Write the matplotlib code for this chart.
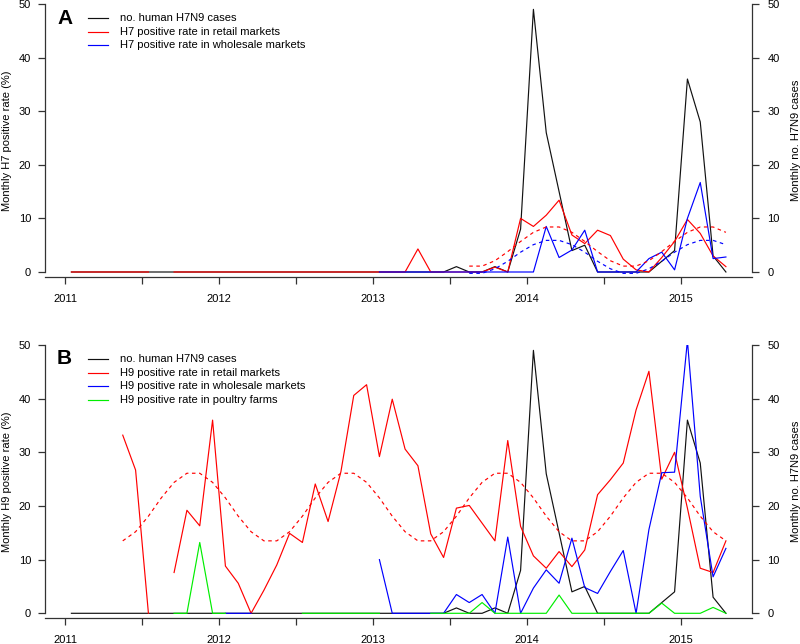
"""Monthly H7 / H9 positive rates in poultry vs. human H7N9 cases, 2011-2015.

Two stacked panels (A: H7, B: H9) in the style of an R base-graphics figure.
Saves out.png (800x644).
"""

import numpy as np
import pandas as pd
import matplotlib
matplotlib.use('Agg')
import matplotlib.pyplot as plt
from matplotlib.lines import Line2D

nan = np.nan

# months Jan 2011 .. Apr 2015
months = pd.period_range('2011-01', '2015-04', freq='M')

human_cases = [
    0, 0, 0, 0, 0, 0, 0, 0, 0, 0, 0, 0,          # 2011
    0, 0, 0, 0, 0, 0, 0, 0, 0, 0, 0, 0,          # 2012
    0, 0, 0, 0, 0, 0, 1, 0, 0, 1, 0, 8,          # 2013
    49, 26, 15, 4, 5, 0, 0, 0, 0, 0, 2, 4,       # 2014
    36, 28, 3, 0,                                # 2015
]

h7_retail = [
    0, 0, 0, 0, 0, 0, 0, nan, 0, 0, 0, 0,
    0, 0, 0, 0, 0, 0, 0, 0, 0, 0, 0, 0,
    0, 0, 0, 4.3, 0, 0, 0, 0, 0, 0.9, 0, 10.0,
    8.5, 10.6, 13.4, 6.9, 5.3, 7.8, 6.8, 2.4, 0.4, 0, 2.7, 5.7,
    9.8, 7.2, 3.0, 1.0,
]

h7_wholesale = [
    nan, nan, nan, nan, nan, nan, nan, nan, nan, nan, nan, nan,
    nan, nan, nan, nan, nan, nan, nan, nan, nan, nan, nan, nan,
    0, 0, 0, 0, 0, 0, 0, 0, 0, 0, 0, 0,
    0, 8.5, 2.7, 4.1, 7.8, 0, 0, 0, 0, 2.5, 3.7, 0.4,
    10.0, 16.7, 2.5, 2.8,
]

# seasonal fits (dashed), start month given separately
h7_fit_start = '2013-08'
h7_retail_fit = [1.1, 1.1, 2.1, 3.8, 5.7, 7.4, 8.4, 8.4, 7.4, 5.7, 3.8, 2.1,
                 1.1, 1.1, 2.1, 3.8, 5.7, 7.4, 8.4, 8.4, 7.4]
h7_wholesale_fit = [-0.25, -0.25, 0.6, 2.0, 3.7, 5.1, 5.9, 5.9, 5.1, 3.7, 2.0, 0.6,
                    -0.25, -0.25, 0.6, 2.0, 3.7, 5.1, 5.9, 5.9, 5.1]

h9_retail = [
    nan, nan, nan, nan, 33.2, 26.7, 0, nan, 7.6, 19.2, 16.3, 36.0,
    8.8, 5.6, 0, 4.3, 9.0, 14.9, 13.2, 24.1, 17.1, 26.4, 40.6, 42.6,
    29.2, 39.9, 30.6, 27.5, 14.8, 10.4, 19.6, 20.1, 16.8, 13.5, 32.2, 16.2,
    10.7, 8.4, 11.5, 8.7, 11.8, 22.1, 24.9, 28.0, 37.9, 45.1, 25.0, 30.0,
    19.6, 8.4, 7.6, 13.5,
]

h9_wholesale = [
    nan, nan, nan, nan, nan, nan, nan, nan, nan, nan, nan, nan,
    0, 0, 0, nan, nan, nan, nan, nan, nan, nan, nan, nan,
    10.0, 0, 0, 0, 0, 0, 3.5, 2.0, 3.5, 0, 14.2, 0,
    4.7, 8.1, 5.6, 14.0, 4.8, 3.7, 7.8, 11.7, 0, 15.6, 26.2, 26.3,
    50.8, 21.8, 6.8, 12.1,
]

h9_farms = [
    nan, nan, nan, nan, nan, nan, nan, nan, 0, 0, 13.2, 0,
    0, nan, nan, nan, nan, nan, 0, 0, 0, 0, 0, 0,
    0, nan, nan, nan, 0, 0, 0, 0, 2.0, 0, 0, 0,
    0, 0, 3.4, 0, 0, 0, 0, 0, 0, 0, 1.9, 0,
    0, 0, 1.1, 0,
]

h9_fit_start = '2011-05'
h9_retail_fit = [
    13.5, 15.2, 18.1, 21.5, 24.4, 26.1, 26.1, 24.4,
    21.5, 18.1, 15.2, 13.5, 13.5, 15.2, 18.1, 21.5, 24.4, 26.1, 26.1, 24.4,
    21.5, 18.1, 15.2, 13.5, 13.5, 15.2, 18.1, 21.5, 24.4, 26.1, 26.1, 24.4,
    21.5, 18.1, 15.2, 13.5, 13.5, 15.2, 18.1, 21.5, 24.4, 26.1, 26.1, 24.4,
    21.5, 18.1, 15.2, 13.5,
]

labels_a = ['no. human H7N9 cases',
            'H7 positive rate in retail markets',
            'H7 positive rate in wholesale markets']
labels_b = ['no. human H7N9 cases',
            'H9 positive rate in retail markets',
            'H9 positive rate in wholesale markets',
            'H9 positive rate in poultry farms']

years = [2011, 2012, 2013, 2014, 2015]
half_years = [2011.5, 2012.5, 2013.5, 2014.5]
y_ticks = [0, 10, 20, 30, 40, 50]

RED = '#ff0000'
BLUE = '#0000ff'
GREEN = '#00ee00'
BLACK = '#111111'
AXIS = '#333333'

W, H = 800, 644
PX_PER_YEAR = 154.0
X0_PX = 65.0          # pixel of 2011.0
AX_LEFT, AX_RIGHT = 45.0, 752.0


def month_x(index):
    return index.year + (index.month - 0.5) / 12.0


def style_axes(ax):
    ax.set_xlim(2011 - (X0_PX - AX_LEFT) / PX_PER_YEAR,
                2011 + (AX_RIGHT - X0_PX) / PX_PER_YEAR)
    ax.set_ylim(-5 / 5.36, 50)
    ax.spines['top'].set_visible(False)
    ax.spines['right'].set_visible(False)
    ax.spines['left'].set_bounds(0, 50)
    for s in ('left', 'bottom'):
        ax.spines[s].set_linewidth(0.9)
        ax.spines[s].set_color(AXIS)
    ax.set_xticks(years)
    ax.set_xticks(half_years, minor=True)
    ax.set_yticks(y_ticks)
    ax.tick_params(axis='x', which='both', length=5, width=0.9, color=AXIS,
                   pad=7, labelsize=8)
    ax.tick_params(axis='y', length=5, width=0.9, color=AXIS, pad=5,
                   labelsize=8)

    # right axis shares the 0-50 scale
    ax2 = ax.twinx()
    ax2.set_ylim(ax.get_ylim())
    for s in ('top', 'left', 'bottom'):
        ax2.spines[s].set_visible(False)
    ax2.spines['right'].set_bounds(0, 50)
    ax2.spines['right'].set_linewidth(0.9)
    ax2.spines['right'].set_color(AXIS)
    ax2.set_yticks(y_ticks)
    ax2.tick_params(axis='y', length=5, width=0.9, color=AXIS, pad=6,
                    labelsize=8)
    return ax2


def draw_legend(fig, colors, labels, top_px):
    # R-style legend without box: short line + label per row
    for i, (c, lab) in enumerate(zip(colors, labels)):
        y = 1 - (top_px + 14 + i * 13.6) / H
        fig.add_artist(Line2D([88 / W, 108 / W], [y, y], color=c, lw=0.85,
                              transform=fig.transFigure))
        fig.text(120 / W, y, lab, fontsize=8, ha='left', va='center')


def draw_panel(ax, series, fits, fit_start, letter, ylabel, labels, top_px):
    x = month_x(months)
    for values, color in series:
        ax.plot(x, values, color=color, lw=0.85)

    start = list(months.strftime('%Y-%m')).index(fit_start)
    for values, color in fits:
        xs = x[start:start + len(values)]
        ax.plot(xs, values, color=color, lw=0.85, dashes=(3, 3))

    ax2 = style_axes(ax)
    ax2.set_ylabel('Monthly no. H7N9 cases', fontsize=8, labelpad=8)
    ax.set_ylabel(ylabel, fontsize=8, labelpad=5)

    fig = ax.figure
    fig.text(57 / W, 1 - (top_px + 14) / H, letter, fontsize=15,
             fontweight='bold', ha='left', va='center')
    draw_legend(fig, [c for _, c in series], labels, top_px)


def main():
    plt.rcParams['font.family'] = ['Liberation Sans', 'DejaVu Sans']
    fig = plt.figure(figsize=(W / 100, H / 100), dpi=100)

    # panel A: y=50 at 4px, bottom axis line at 277px
    axA = fig.add_axes([AX_LEFT / W, 1 - 277 / H, (AX_RIGHT - AX_LEFT) / W, 273 / H])
    draw_panel(axA,
               [(human_cases, BLACK), (h7_retail, RED), (h7_wholesale, BLUE)],
               [(h7_retail_fit, RED), (h7_wholesale_fit, BLUE)],
               h7_fit_start, 'A', 'Monthly H7 positive rate (%)', labels_a, 4)

    # panel B: y=50 at 345px, bottom axis line at 618px
    axB = fig.add_axes([AX_LEFT / W, 1 - 618.3 / H, (AX_RIGHT - AX_LEFT) / W, 273.3 / H])
    draw_panel(axB,
               [(human_cases, BLACK), (h9_retail, RED), (h9_wholesale, BLUE),
                (h9_farms, GREEN)],
               [(h9_retail_fit, RED)],
               h9_fit_start, 'B', 'Monthly H9 positive rate (%)', labels_b, 345)

    fig.savefig('out.png', dpi=100)
    plt.close(fig)


if __name__ == '__main__':
    main()
